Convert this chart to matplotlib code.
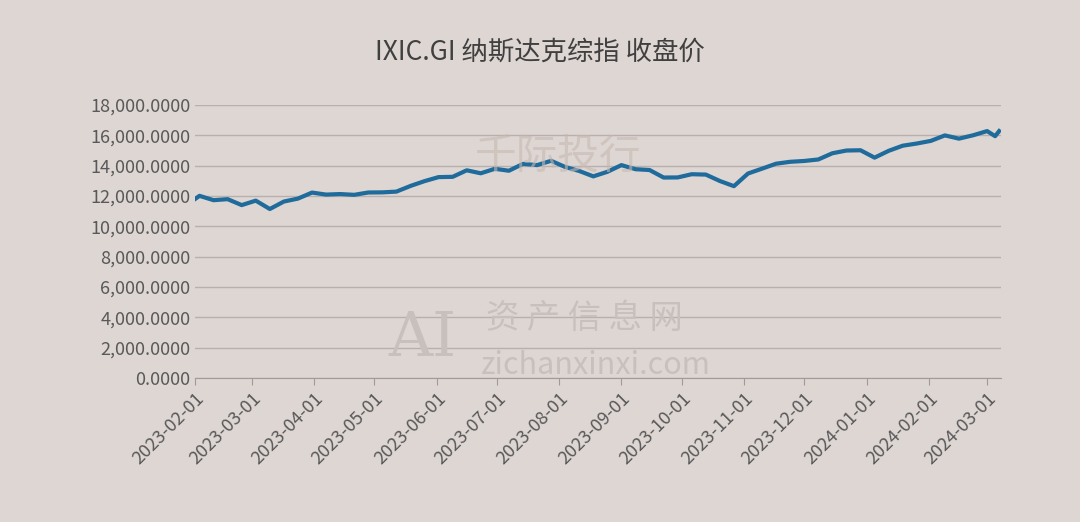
import matplotlib.pyplot as plt
import matplotlib.dates as mdates
import matplotlib.ticker as mticker
import pandas as pd

plt.rcParams['font.family'] = ['Noto Sans CJK SC', 'DejaVu Sans']

dates = ["2023-02-01", "2023-02-03", "2023-02-10", "2023-02-17", "2023-02-24", "2023-03-03",
         "2023-03-10", "2023-03-17", "2023-03-24", "2023-03-31", "2023-04-07", "2023-04-14",
         "2023-04-21", "2023-04-28", "2023-05-05", "2023-05-12", "2023-05-19", "2023-05-26",
         "2023-06-02", "2023-06-09", "2023-06-16", "2023-06-23", "2023-06-30", "2023-07-07",
         "2023-07-14", "2023-07-21", "2023-07-28", "2023-08-04", "2023-08-11", "2023-08-18",
         "2023-08-25", "2023-09-01", "2023-09-08", "2023-09-15", "2023-09-22", "2023-09-29",
         "2023-10-06", "2023-10-13", "2023-10-20", "2023-10-27", "2023-11-03", "2023-11-10",
         "2023-11-17", "2023-11-24", "2023-12-01", "2023-12-08", "2023-12-15", "2023-12-22",
         "2023-12-29", "2024-01-05", "2024-01-12", "2024-01-19", "2024-01-26", "2024-02-02",
         "2024-02-09", "2024-02-16", "2024-02-23", "2024-03-01", "2024-03-05", "2024-03-07"]
close = [11816, 12006, 11718, 11787, 11395, 11689,
         11138, 11630, 11824, 12221, 12088, 12123,
         12072, 12226, 12235, 12284, 12657, 12975,
         13240, 13259, 13689, 13492, 13788, 13660,
         14113, 14032, 14316, 13909, 13644, 13290,
         13590, 14031, 13761, 13708, 13212, 13219,
         13431, 13407, 12984, 12643, 13478, 13798,
         14125, 14250, 14305, 14404, 14814, 14993,
         15011, 14524, 14973, 15311, 15455, 15629,
         15990, 15776, 15997, 16275, 15940, 16273]

x = pd.to_datetime(dates)
bg = "#ded6d3"

fig = plt.figure(figsize=(10.8, 5.22), dpi=100, facecolor=bg)
ax = fig.add_axes([0.181, 0.276, 0.746, 0.523], facecolor=bg)
ax.plot(x, close, color="#1f6b9b", linewidth=3)

ax.set_ylim(0, 18000)
ax.set_yticks(range(0, 18001, 2000))
ax.yaxis.set_major_formatter(mticker.FuncFormatter(lambda v, p: f"{v:,.4f}"))
ax.set_xlim(pd.Timestamp("2023-02-01"), pd.Timestamp("2024-03-08"))
ax.xaxis.set_major_locator(mdates.MonthLocator())
ax.xaxis.set_major_formatter(mdates.DateFormatter("%Y-%m-%d"))
plt.setp(ax.get_xticklabels(), rotation=45, ha="right", rotation_mode="anchor")
ax.tick_params(axis="x", length=5, color="#a09a98", labelsize=13, colors="#595959")
ax.tick_params(axis="y", length=0, labelsize=13, colors="#595959")
ax.grid(axis="y", color="#b8b0ae", linewidth=1)
for s in ["top", "right", "left"]:
    ax.spines[s].set_visible(False)
ax.spines["bottom"].set_color("#a09a98")

fig.text(0.5, 0.9, "IXIC.GI 纳斯达克综指 收盘价", ha="center", va="center",
         fontsize=19, color="#404040")
fig.text(0.44, 0.70, "千际投行", fontsize=30, color="#c8b8b0", alpha=0.6, ha="left", va="center")
fig.text(0.45, 0.39, "资 产 信 息 网", fontsize=24, color="#c8c0bd", ha="left", va="center")
fig.text(0.445, 0.30, "zichanxinxi.com", fontsize=22, color="#c8c0bd", ha="left", va="center")
fig.text(0.36, 0.35, "AI", fontsize=44, color="#c8c0bd", ha="left", va="center", family="DejaVu Serif")

fig.savefig("out.png", dpi=100, facecolor=bg)
